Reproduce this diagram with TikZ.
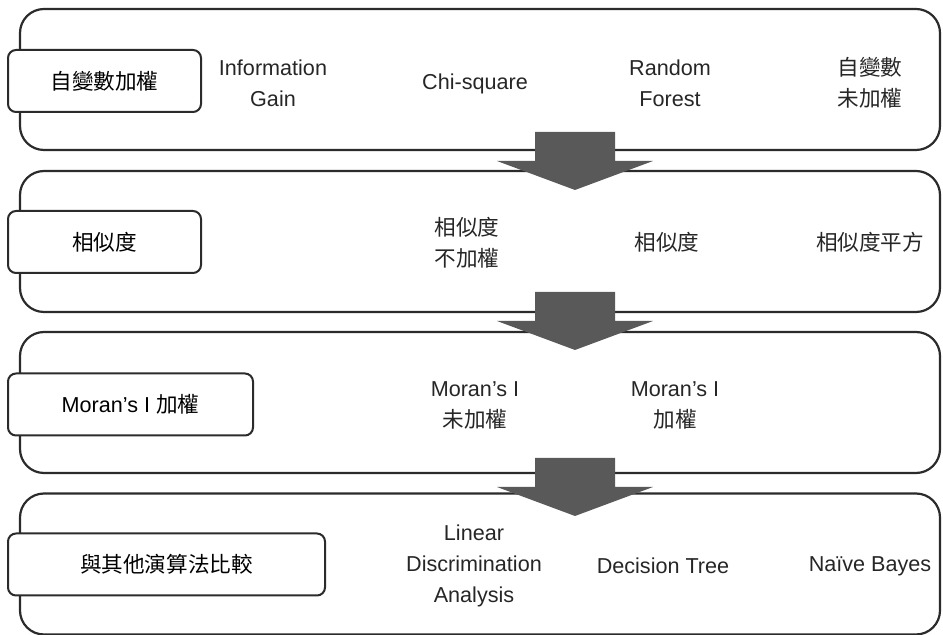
\documentclass[tikz,border=0pt]{standalone}
\usepackage{fontspec}
\setmainfont{Liberation Sans}
\newfontfamily\cjk{Noto Sans CJK TC}
\usetikzlibrary{positioning}
\definecolor{arrow gray}{HTML}{595959}
\definecolor{frame gray}{HTML}{2B2B2B}

\tikzset{
  stage/.style={draw=frame gray, line width=1.1pt, rounded corners=12pt,
    minimum width=460pt, minimum height=70.5pt, inner sep=0pt},
  tag/.style={draw=frame gray, line width=1pt, fill=white, rounded corners=4pt,
    minimum height=31pt, inner sep=0pt, anchor=west,
    font=\fontsize{10.8}{15.5}\selectfont},
  item/.style={align=center, inner sep=0pt, text=black!85,
    font=\fontsize{10.8}{15.5}\selectfont},
}

\begin{document}
\begin{tikzpicture}[x=0.5pt, y=-0.5pt]
  \useasboundingbox (0,0) rectangle (943,635);

  % the four stages
  \node[stage] (s1) at (480,79.5) {};
  \node[stage] (s2) at (480,241.5) {};
  \node[stage] (s3) at (480,402.5) {};
  \node[stage] (s4) at (480,564) {};

  % stage titles
  \node[tag, minimum width=96.5pt] (t1) at (7,81) {\cjk 自變數加權};
  \node[tag, minimum width=96.5pt] (t2) at (7,242) {\cjk 相似度};
  \node[tag, minimum width=122.5pt] (t3) at (7,404.5) {Moran’s I {\cjk 加權}};
  \node[tag, minimum width=158.5pt] (t4) at (7,564.5) {\cjk 與其他演算法比較};

  % stage 1
  \node[item] (ig) at (273,83) {Information\\Gain};
  \node[item] (chi) at (475,84) {Chi-square};
  \node[item] (rf) at (670,83) {Random\\Forest};
  \node[item] (raw) at (870,83) {\cjk 自變數\\\cjk 未加權};

  % stage 2
  \node[item] (simraw) at (467,243) {\cjk 相似度\\\cjk 不加權};
  \node[item] (sim) at (667,242) {\cjk 相似度};
  \node[item] (simsq) at (870,242) {\cjk 相似度平方};

  % stage 3
  \node[item] (moranraw) at (475,405) {Moran’s I\\\cjk 未加權};
  \node[item] (moranw) at (675,405) {Moran’s I\\\cjk 加權};

  % stage 4
  \node[item] (lda) at (474,566) {Linear\\Discrimination\\Analysis};
  \node[item] (dt) at (663,566) {Decision Tree};
  \node[item] (nb) at (870,566) {Naïve Bayes};

  % block arrows between stages
  \foreach \t in {132, 292, 458} {
    \fill[arrow gray] (535,\t) -- (615,\t) -- (615,\t+29) -- (653,\t+29)
      -- (575,\t+58) -- (497,\t+29) -- (535,\t+29) -- cycle;
  }
\end{tikzpicture}
\end{document}
